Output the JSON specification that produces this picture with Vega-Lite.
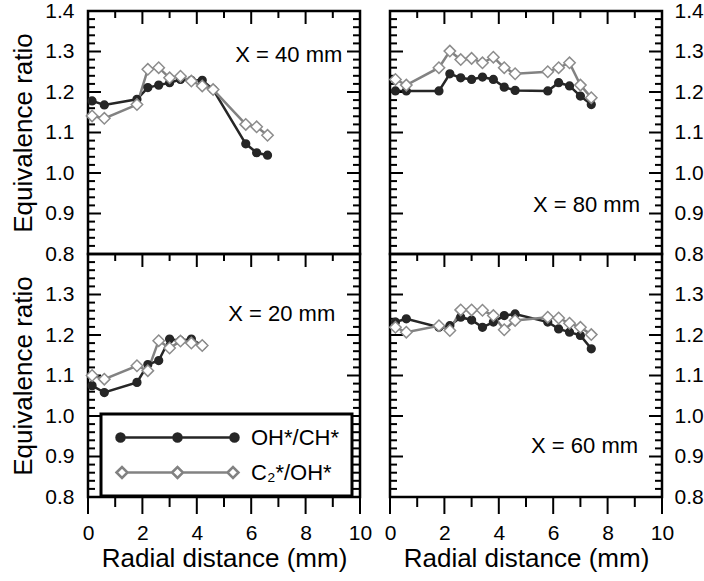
{
  "$schema": "https://vega.github.io/schema/vega-lite/v6.json",
  "padding": {"left": 9, "top": -2, "right": 0, "bottom": 0},
  "background": "white",
  "datasets": {
    "ymaj": [{"v":0.8},{"v":0.9},{"v":1.0},{"v":1.1},{"v":1.2},{"v":1.3},{"v":1.4}],
    "ymin": [{"v":0.82},{"v":0.84},{"v":0.86},{"v":0.88},{"v":0.92},{"v":0.94},{"v":0.96},{"v":0.98},{"v":1.02},{"v":1.04},{"v":1.06},{"v":1.08},{"v":1.12},{"v":1.14},{"v":1.16},{"v":1.18},{"v":1.22},{"v":1.24},{"v":1.26},{"v":1.28},{"v":1.32},{"v":1.34},{"v":1.36},{"v":1.38}],
    "xmaj": [{"v":0},{"v":2},{"v":4},{"v":6},{"v":8},{"v":10}],
    "xmin": [{"v":1},{"v":3},{"v":5},{"v":7},{"v":9}],
    "d": [
      {"p":"40","s":"OH*/CH*","r":0.15,"phi":1.178},{"p":"40","s":"OH*/CH*","r":0.6,"phi":1.168},{"p":"40","s":"OH*/CH*","r":1.8,"phi":1.182},{"p":"40","s":"OH*/CH*","r":2.2,"phi":1.211},{"p":"40","s":"OH*/CH*","r":2.6,"phi":1.217},{"p":"40","s":"OH*/CH*","r":3.0,"phi":1.223},{"p":"40","s":"OH*/CH*","r":3.4,"phi":1.231},{"p":"40","s":"OH*/CH*","r":3.8,"phi":1.229},{"p":"40","s":"OH*/CH*","r":4.2,"phi":1.229},{"p":"40","s":"OH*/CH*","r":4.6,"phi":1.206},{"p":"40","s":"OH*/CH*","r":5.8,"phi":1.072},{"p":"40","s":"OH*/CH*","r":6.2,"phi":1.05},{"p":"40","s":"OH*/CH*","r":6.6,"phi":1.044},
      {"p":"80","s":"OH*/CH*","r":0.2,"phi":1.2025},{"p":"80","s":"OH*/CH*","r":0.6,"phi":1.2025},{"p":"80","s":"OH*/CH*","r":1.8,"phi":1.2025},{"p":"80","s":"OH*/CH*","r":2.2,"phi":1.245},{"p":"80","s":"OH*/CH*","r":2.6,"phi":1.235},{"p":"80","s":"OH*/CH*","r":3.0,"phi":1.231},{"p":"80","s":"OH*/CH*","r":3.4,"phi":1.237},{"p":"80","s":"OH*/CH*","r":3.8,"phi":1.231},{"p":"80","s":"OH*/CH*","r":4.2,"phi":1.212},{"p":"80","s":"OH*/CH*","r":4.6,"phi":1.204},{"p":"80","s":"OH*/CH*","r":5.8,"phi":1.2025},{"p":"80","s":"OH*/CH*","r":6.2,"phi":1.223},{"p":"80","s":"OH*/CH*","r":6.6,"phi":1.215},{"p":"80","s":"OH*/CH*","r":7.0,"phi":1.19},{"p":"80","s":"OH*/CH*","r":7.4,"phi":1.169},
      {"p":"20","s":"OH*/CH*","r":0.15,"phi":1.075},{"p":"20","s":"OH*/CH*","r":0.6,"phi":1.058},{"p":"20","s":"OH*/CH*","r":1.8,"phi":1.083},{"p":"20","s":"OH*/CH*","r":2.2,"phi":1.127},{"p":"20","s":"OH*/CH*","r":2.6,"phi":1.137},{"p":"20","s":"OH*/CH*","r":3.0,"phi":1.19},{"p":"20","s":"OH*/CH*","r":3.4,"phi":1.186},{"p":"20","s":"OH*/CH*","r":3.8,"phi":1.19},{"p":"20","s":"OH*/CH*","r":4.2,"phi":1.174},
      {"p":"60","s":"OH*/CH*","r":0.2,"phi":1.232},{"p":"60","s":"OH*/CH*","r":0.6,"phi":1.24},{"p":"60","s":"OH*/CH*","r":1.8,"phi":1.219},{"p":"60","s":"OH*/CH*","r":2.2,"phi":1.223},{"p":"60","s":"OH*/CH*","r":2.6,"phi":1.244},{"p":"60","s":"OH*/CH*","r":3.0,"phi":1.237},{"p":"60","s":"OH*/CH*","r":3.4,"phi":1.219},{"p":"60","s":"OH*/CH*","r":3.8,"phi":1.232},{"p":"60","s":"OH*/CH*","r":4.2,"phi":1.248},{"p":"60","s":"OH*/CH*","r":4.6,"phi":1.252},{"p":"60","s":"OH*/CH*","r":5.8,"phi":1.232},{"p":"60","s":"OH*/CH*","r":6.2,"phi":1.215},{"p":"60","s":"OH*/CH*","r":6.6,"phi":1.207},{"p":"60","s":"OH*/CH*","r":7.0,"phi":1.199},{"p":"60","s":"OH*/CH*","r":7.4,"phi":1.166},
      {"p":"40","s":"C₂*/OH*","r":0.15,"phi":1.141},{"p":"40","s":"C₂*/OH*","r":0.6,"phi":1.135},{"p":"40","s":"C₂*/OH*","r":1.8,"phi":1.169},{"p":"40","s":"C₂*/OH*","r":2.2,"phi":1.256},{"p":"40","s":"C₂*/OH*","r":2.6,"phi":1.26},{"p":"40","s":"C₂*/OH*","r":3.0,"phi":1.235},{"p":"40","s":"C₂*/OH*","r":3.4,"phi":1.239},{"p":"40","s":"C₂*/OH*","r":3.8,"phi":1.227},{"p":"40","s":"C₂*/OH*","r":4.2,"phi":1.215},{"p":"40","s":"C₂*/OH*","r":4.6,"phi":1.206},{"p":"40","s":"C₂*/OH*","r":5.8,"phi":1.12},{"p":"40","s":"C₂*/OH*","r":6.2,"phi":1.114},{"p":"40","s":"C₂*/OH*","r":6.6,"phi":1.093},
      {"p":"80","s":"C₂*/OH*","r":0.2,"phi":1.231},{"p":"80","s":"C₂*/OH*","r":0.6,"phi":1.217},{"p":"80","s":"C₂*/OH*","r":1.8,"phi":1.26},{"p":"80","s":"C₂*/OH*","r":2.2,"phi":1.301},{"p":"80","s":"C₂*/OH*","r":2.6,"phi":1.28},{"p":"80","s":"C₂*/OH*","r":3.0,"phi":1.283},{"p":"80","s":"C₂*/OH*","r":3.4,"phi":1.272},{"p":"80","s":"C₂*/OH*","r":3.8,"phi":1.286},{"p":"80","s":"C₂*/OH*","r":4.2,"phi":1.26},{"p":"80","s":"C₂*/OH*","r":4.6,"phi":1.245},{"p":"80","s":"C₂*/OH*","r":5.8,"phi":1.25},{"p":"80","s":"C₂*/OH*","r":6.2,"phi":1.26},{"p":"80","s":"C₂*/OH*","r":6.6,"phi":1.272},{"p":"80","s":"C₂*/OH*","r":7.0,"phi":1.217},{"p":"80","s":"C₂*/OH*","r":7.4,"phi":1.186},
      {"p":"20","s":"C₂*/OH*","r":0.15,"phi":1.1},{"p":"20","s":"C₂*/OH*","r":0.6,"phi":1.091},{"p":"20","s":"C₂*/OH*","r":1.8,"phi":1.124},{"p":"20","s":"C₂*/OH*","r":2.2,"phi":1.112},{"p":"20","s":"C₂*/OH*","r":2.6,"phi":1.186},{"p":"20","s":"C₂*/OH*","r":3.0,"phi":1.168},{"p":"20","s":"C₂*/OH*","r":3.4,"phi":1.185},{"p":"20","s":"C₂*/OH*","r":3.8,"phi":1.18},{"p":"20","s":"C₂*/OH*","r":4.2,"phi":1.174},
      {"p":"60","s":"C₂*/OH*","r":0.2,"phi":1.219},{"p":"60","s":"C₂*/OH*","r":0.6,"phi":1.207},{"p":"60","s":"C₂*/OH*","r":1.8,"phi":1.223},{"p":"60","s":"C₂*/OH*","r":2.2,"phi":1.211},{"p":"60","s":"C₂*/OH*","r":2.6,"phi":1.262},{"p":"60","s":"C₂*/OH*","r":3.0,"phi":1.262},{"p":"60","s":"C₂*/OH*","r":3.4,"phi":1.261},{"p":"60","s":"C₂*/OH*","r":3.8,"phi":1.248},{"p":"60","s":"C₂*/OH*","r":4.2,"phi":1.213},{"p":"60","s":"C₂*/OH*","r":4.6,"phi":1.236},{"p":"60","s":"C₂*/OH*","r":5.8,"phi":1.244},{"p":"60","s":"C₂*/OH*","r":6.2,"phi":1.242},{"p":"60","s":"C₂*/OH*","r":6.6,"phi":1.229},{"p":"60","s":"C₂*/OH*","r":7.0,"phi":1.219},{"p":"60","s":"C₂*/OH*","r":7.4,"phi":1.201}
    ]
  },
  "columns": 2,
  "spacing": {"row": 0, "column": 30},
  "bounds": "flush",
  "concat": [
    {
      "width": 272, "height": 243,
      "layer": [
        {"data": {"name": "d"}, "transform": [{"filter": "datum.p === '40'"}],
         "mark": {"type": "line", "strokeWidth": 2.5},
         "encoding": {
           "x": {"field": "r", "type": "quantitative", "scale": {"domain": [0, 10], "nice": false}, "axis": null},
           "y": {"field": "phi", "type": "quantitative", "scale": {"domain": [0.8, 1.4], "nice": false, "zero": false}, "axis": {"orient": "left", "values": [0.8,0.9,1.0,1.1,1.2,1.3,1.4], "format": ".1f", "ticks": false, "domain": false, "labelPadding": 14, "title": "Equivalence ratio", "titlePadding": 8}},
           "color": {"field": "s", "type": "nominal", "scale": {"domain": ["OH*/CH*", "C₂*/OH*"], "range": ["#262626", "#828282"]},
             "legend": {"orient": "none", "legendX": 13, "legendY": 403, "title": null, "direction": "vertical", "symbolSize": 400, "symbolStrokeWidth": 2.5, "symbolOffset": 53, "labelFontSize": 22, "labelOffset": 62, "padding": 12, "rowPadding": 12, "strokeColor": "black", "fillColor": "white", "labelColor": "black",
               "encode": {
                 "legend": {"update": {"strokeWidth": {"value": 3}}},
                 "symbols": {"update": {
                   "shape": {"signal": "datum.value === 'OH*/CH*' ? 'M-5.3,0L-0.4,0M0.4,0L5.3,0M-6.1,0A0.4,0.4,0,1,0,-5.3,0A0.4,0.4,0,1,0,-6.1,0ZM-0.4,0A0.4,0.4,0,1,0,0.4,0A0.4,0.4,0,1,0,-0.4,0ZM5.3,0A0.4,0.4,0,1,0,6.1,0A0.4,0.4,0,1,0,5.3,0Z' : 'M-5.0,0L-0.55,0M0.55,0L5.0,0M-6.1,0L-5.55,-0.55L-5.0,0L-5.55,0.55ZM-0.55,0L0,-0.55L0.55,0L0,0.55ZM5.0,0L5.55,-0.55L6.1,0L5.55,0.55Z'"},
                   "fill": {"signal": "datum.value === 'OH*/CH*' ? '#262626' : 'white'"},
                   "stroke": {"signal": "datum.value === 'OH*/CH*' ? '#262626' : '#8c8c8c'"},
                   "size": {"value": 400},
                   "opacity": {"value": 1}
                 }}
               }}}
         }},
        {"data": {"name": "ymaj"}, "mark": {"type": "tick", "orient": "horizontal", "size": 13, "thickness": 2, "xOffset": 6.5, "color": "black", "opacity": 1}, "encoding": {"x": {"datum": 0, "type": "quantitative", "axis": null}, "y": {"field": "v", "type": "quantitative", "axis": null}}},
        {"data": {"name": "ymin"}, "mark": {"type": "tick", "orient": "horizontal", "size": 7, "thickness": 2, "xOffset": 3.5, "color": "black", "opacity": 1}, "encoding": {"x": {"datum": 0, "type": "quantitative", "axis": null}, "y": {"field": "v", "type": "quantitative", "axis": null}}},
        {"data": {"name": "ymaj"}, "mark": {"type": "tick", "orient": "horizontal", "size": 13, "thickness": 2, "xOffset": -6.5, "color": "black", "opacity": 1}, "encoding": {"x": {"datum": 10, "type": "quantitative", "axis": null}, "y": {"field": "v", "type": "quantitative", "axis": null}}},
        {"data": {"name": "ymin"}, "mark": {"type": "tick", "orient": "horizontal", "size": 7, "thickness": 2, "xOffset": -3.5, "color": "black", "opacity": 1}, "encoding": {"x": {"datum": 10, "type": "quantitative", "axis": null}, "y": {"field": "v", "type": "quantitative", "axis": null}}},
        {"data": {"name": "xmaj"}, "mark": {"type": "tick", "orient": "vertical", "size": 13, "thickness": 2, "yOffset": 6.5, "color": "black", "opacity": 1}, "encoding": {"x": {"field": "v", "type": "quantitative", "axis": null}, "y": {"datum": 1.4, "type": "quantitative", "axis": null}}},
        {"data": {"name": "xmin"}, "mark": {"type": "tick", "orient": "vertical", "size": 7, "thickness": 2, "yOffset": 3.5, "color": "black", "opacity": 1}, "encoding": {"x": {"field": "v", "type": "quantitative", "axis": null}, "y": {"datum": 1.4, "type": "quantitative", "axis": null}}},
        {"data": {"name": "d"}, "transform": [{"filter": "datum.p === '40'"}],
         "mark": {"type": "point", "filled": true, "opacity": 1, "strokeWidth": 1.5},
         "encoding": {
           "x": {"field": "r", "type": "quantitative", "axis": null},
           "y": {"field": "phi", "type": "quantitative", "axis": null},
           "shape": {"condition": {"test": "datum.s === 'OH*/CH*'", "value": "circle"}, "value": "diamond"},
           "fill": {"condition": {"test": "datum.s === 'OH*/CH*'", "value": "#262626"}, "value": "white"},
           "stroke": {"condition": {"test": "datum.s === 'OH*/CH*'", "value": "#262626"}, "value": "#8c8c8c"},
           "size": {"condition": {"test": "datum.s === 'OH*/CH*'", "value": 60}, "value": 130}
         }},
        {"data": {"values": [{"label": "X = 40 mm"}]},
         "mark": {"type": "text", "align": "right", "baseline": "middle", "fontSize": 22, "color": "black"},
         "encoding": {"x": {"datum": 9.35, "type": "quantitative", "axis": null}, "y": {"datum": 1.292, "type": "quantitative", "axis": null}, "text": {"field": "label"}}}
      ],
      "resolve": {"axis": {"x": "independent", "y": "independent"}}
    },
    {
      "width": 272, "height": 243,
      "layer": [
        {"data": {"name": "d"}, "transform": [{"filter": "datum.p === '80'"}],
         "mark": {"type": "line", "strokeWidth": 2.5},
         "encoding": {
           "x": {"field": "r", "type": "quantitative", "scale": {"domain": [0, 10], "nice": false}, "axis": null},
           "y": {"field": "phi", "type": "quantitative", "scale": {"domain": [0.8, 1.4], "nice": false, "zero": false}, "axis": {"orient": "right", "values": [0.8,0.9,1.0,1.1,1.2,1.3,1.4], "format": ".1f", "ticks": false, "domain": false, "labelPadding": 12, "title": null}},
           "color": {"field": "s", "type": "nominal", "scale": {"domain": ["OH*/CH*", "C₂*/OH*"], "range": ["#262626", "#828282"]}, "legend": null}
         }},
        {"data": {"name": "ymaj"}, "mark": {"type": "tick", "orient": "horizontal", "size": 13, "thickness": 2, "xOffset": 6.5, "color": "black", "opacity": 1}, "encoding": {"x": {"datum": 0, "type": "quantitative", "axis": null}, "y": {"field": "v", "type": "quantitative", "axis": null}}},
        {"data": {"name": "ymin"}, "mark": {"type": "tick", "orient": "horizontal", "size": 7, "thickness": 2, "xOffset": 3.5, "color": "black", "opacity": 1}, "encoding": {"x": {"datum": 0, "type": "quantitative", "axis": null}, "y": {"field": "v", "type": "quantitative", "axis": null}}},
        {"data": {"name": "ymaj"}, "mark": {"type": "tick", "orient": "horizontal", "size": 13, "thickness": 2, "xOffset": -6.5, "color": "black", "opacity": 1}, "encoding": {"x": {"datum": 10, "type": "quantitative", "axis": null}, "y": {"field": "v", "type": "quantitative", "axis": null}}},
        {"data": {"name": "ymin"}, "mark": {"type": "tick", "orient": "horizontal", "size": 7, "thickness": 2, "xOffset": -3.5, "color": "black", "opacity": 1}, "encoding": {"x": {"datum": 10, "type": "quantitative", "axis": null}, "y": {"field": "v", "type": "quantitative", "axis": null}}},
        {"data": {"name": "xmaj"}, "mark": {"type": "tick", "orient": "vertical", "size": 13, "thickness": 2, "yOffset": 6.5, "color": "black", "opacity": 1}, "encoding": {"x": {"field": "v", "type": "quantitative", "axis": null}, "y": {"datum": 1.4, "type": "quantitative", "axis": null}}},
        {"data": {"name": "xmin"}, "mark": {"type": "tick", "orient": "vertical", "size": 7, "thickness": 2, "yOffset": 3.5, "color": "black", "opacity": 1}, "encoding": {"x": {"field": "v", "type": "quantitative", "axis": null}, "y": {"datum": 1.4, "type": "quantitative", "axis": null}}},
        {"data": {"name": "d"}, "transform": [{"filter": "datum.p === '80'"}],
         "mark": {"type": "point", "filled": true, "opacity": 1, "strokeWidth": 1.5},
         "encoding": {
           "x": {"field": "r", "type": "quantitative", "axis": null},
           "y": {"field": "phi", "type": "quantitative", "axis": null},
           "shape": {"condition": {"test": "datum.s === 'OH*/CH*'", "value": "circle"}, "value": "diamond"},
           "fill": {"condition": {"test": "datum.s === 'OH*/CH*'", "value": "#262626"}, "value": "white"},
           "stroke": {"condition": {"test": "datum.s === 'OH*/CH*'", "value": "#262626"}, "value": "#8c8c8c"},
           "size": {"condition": {"test": "datum.s === 'OH*/CH*'", "value": 60}, "value": 130}
         }},
        {"data": {"values": [{"label": "X = 80 mm"}]},
         "mark": {"type": "text", "align": "right", "baseline": "middle", "fontSize": 22, "color": "black"},
         "encoding": {"x": {"datum": 9.19, "type": "quantitative", "axis": null}, "y": {"datum": 0.922, "type": "quantitative", "axis": null}, "text": {"field": "label"}}}
      ],
      "resolve": {"axis": {"x": "independent", "y": "independent"}}
    },
    {
      "width": 272, "height": 243,
      "layer": [
        {"data": {"name": "d"}, "transform": [{"filter": "datum.p === '20'"}],
         "mark": {"type": "line", "strokeWidth": 2.5},
         "encoding": {
           "x": {"field": "r", "type": "quantitative", "scale": {"domain": [0, 10], "nice": false}, "axis": {"orient": "bottom", "values": [0,2,4,6,8,10], "ticks": false, "domain": false, "labelPadding": 25, "title": "Radial distance (mm)", "titlePadding": 2}},
           "y": {"field": "phi", "type": "quantitative", "scale": {"domain": [0.8, 1.4], "nice": false, "zero": false}, "axis": {"orient": "left", "values": [0.8,0.9,1.0,1.1,1.2,1.3], "format": ".1f", "ticks": false, "domain": false, "labelPadding": 14, "title": "Equivalence ratio", "titlePadding": 8}},
           "color": {"field": "s", "type": "nominal", "scale": {"domain": ["OH*/CH*", "C₂*/OH*"], "range": ["#262626", "#828282"]}, "legend": null}
         }},
        {"data": {"name": "ymaj"}, "mark": {"type": "tick", "orient": "horizontal", "size": 13, "thickness": 2, "xOffset": 6.5, "color": "black", "opacity": 1}, "encoding": {"x": {"datum": 0, "type": "quantitative", "axis": null}, "y": {"field": "v", "type": "quantitative", "axis": null}}},
        {"data": {"name": "ymin"}, "mark": {"type": "tick", "orient": "horizontal", "size": 7, "thickness": 2, "xOffset": 3.5, "color": "black", "opacity": 1}, "encoding": {"x": {"datum": 0, "type": "quantitative", "axis": null}, "y": {"field": "v", "type": "quantitative", "axis": null}}},
        {"data": {"name": "ymaj"}, "mark": {"type": "tick", "orient": "horizontal", "size": 13, "thickness": 2, "xOffset": -6.5, "color": "black", "opacity": 1}, "encoding": {"x": {"datum": 10, "type": "quantitative", "axis": null}, "y": {"field": "v", "type": "quantitative", "axis": null}}},
        {"data": {"name": "ymin"}, "mark": {"type": "tick", "orient": "horizontal", "size": 7, "thickness": 2, "xOffset": -3.5, "color": "black", "opacity": 1}, "encoding": {"x": {"datum": 10, "type": "quantitative", "axis": null}, "y": {"field": "v", "type": "quantitative", "axis": null}}},
        {"data": {"name": "xmaj"}, "mark": {"type": "tick", "orient": "vertical", "size": 13, "thickness": 2, "yOffset": 6.5, "color": "black", "opacity": 1}, "encoding": {"x": {"field": "v", "type": "quantitative", "axis": null}, "y": {"datum": 1.4, "type": "quantitative", "axis": null}}},
        {"data": {"name": "xmin"}, "mark": {"type": "tick", "orient": "vertical", "size": 7, "thickness": 2, "yOffset": 3.5, "color": "black", "opacity": 1}, "encoding": {"x": {"field": "v", "type": "quantitative", "axis": null}, "y": {"datum": 1.4, "type": "quantitative", "axis": null}}},
        {"data": {"name": "xmaj"}, "mark": {"type": "tick", "orient": "vertical", "size": 17, "thickness": 2, "yOffset": 8.5, "color": "black", "opacity": 1}, "encoding": {"x": {"field": "v", "type": "quantitative", "axis": null}, "y": {"datum": 0.8, "type": "quantitative", "axis": null}}},
        {"data": {"name": "xmin"}, "mark": {"type": "tick", "orient": "vertical", "size": 10, "thickness": 2, "yOffset": 5, "color": "black", "opacity": 1}, "encoding": {"x": {"field": "v", "type": "quantitative", "axis": null}, "y": {"datum": 0.8, "type": "quantitative", "axis": null}}},
        {"data": {"name": "d"}, "transform": [{"filter": "datum.p === '20'"}],
         "mark": {"type": "point", "filled": true, "opacity": 1, "strokeWidth": 1.5},
         "encoding": {
           "x": {"field": "r", "type": "quantitative", "axis": null},
           "y": {"field": "phi", "type": "quantitative", "axis": null},
           "shape": {"condition": {"test": "datum.s === 'OH*/CH*'", "value": "circle"}, "value": "diamond"},
           "fill": {"condition": {"test": "datum.s === 'OH*/CH*'", "value": "#262626"}, "value": "white"},
           "stroke": {"condition": {"test": "datum.s === 'OH*/CH*'", "value": "#262626"}, "value": "#8c8c8c"},
           "size": {"condition": {"test": "datum.s === 'OH*/CH*'", "value": 60}, "value": 130}
         }},
        {"data": {"values": [{"label": "X = 20 mm"}]},
         "mark": {"type": "text", "align": "right", "baseline": "middle", "fontSize": 22, "color": "black"},
         "encoding": {"x": {"datum": 9.09, "type": "quantitative", "axis": null}, "y": {"datum": 1.251, "type": "quantitative", "axis": null}, "text": {"field": "label"}}}
      ],
      "resolve": {"axis": {"x": "independent", "y": "independent"}}
    },
    {
      "width": 272, "height": 243,
      "layer": [
        {"data": {"name": "d"}, "transform": [{"filter": "datum.p === '60'"}],
         "mark": {"type": "line", "strokeWidth": 2.5},
         "encoding": {
           "x": {"field": "r", "type": "quantitative", "scale": {"domain": [0, 10], "nice": false}, "axis": {"orient": "bottom", "values": [0,2,4,6,8,10], "ticks": false, "domain": false, "labelPadding": 25, "title": "Radial distance (mm)", "titlePadding": 2}},
           "y": {"field": "phi", "type": "quantitative", "scale": {"domain": [0.8, 1.4], "nice": false, "zero": false}, "axis": {"orient": "right", "values": [0.8,0.9,1.0,1.1,1.2,1.3], "format": ".1f", "ticks": false, "domain": false, "labelPadding": 12, "title": null}},
           "color": {"field": "s", "type": "nominal", "scale": {"domain": ["OH*/CH*", "C₂*/OH*"], "range": ["#262626", "#828282"]}, "legend": null}
         }},
        {"data": {"name": "ymaj"}, "mark": {"type": "tick", "orient": "horizontal", "size": 13, "thickness": 2, "xOffset": 6.5, "color": "black", "opacity": 1}, "encoding": {"x": {"datum": 0, "type": "quantitative", "axis": null}, "y": {"field": "v", "type": "quantitative", "axis": null}}},
        {"data": {"name": "ymin"}, "mark": {"type": "tick", "orient": "horizontal", "size": 7, "thickness": 2, "xOffset": 3.5, "color": "black", "opacity": 1}, "encoding": {"x": {"datum": 0, "type": "quantitative", "axis": null}, "y": {"field": "v", "type": "quantitative", "axis": null}}},
        {"data": {"name": "ymaj"}, "mark": {"type": "tick", "orient": "horizontal", "size": 13, "thickness": 2, "xOffset": -6.5, "color": "black", "opacity": 1}, "encoding": {"x": {"datum": 10, "type": "quantitative", "axis": null}, "y": {"field": "v", "type": "quantitative", "axis": null}}},
        {"data": {"name": "ymin"}, "mark": {"type": "tick", "orient": "horizontal", "size": 7, "thickness": 2, "xOffset": -3.5, "color": "black", "opacity": 1}, "encoding": {"x": {"datum": 10, "type": "quantitative", "axis": null}, "y": {"field": "v", "type": "quantitative", "axis": null}}},
        {"data": {"name": "xmaj"}, "mark": {"type": "tick", "orient": "vertical", "size": 13, "thickness": 2, "yOffset": 6.5, "color": "black", "opacity": 1}, "encoding": {"x": {"field": "v", "type": "quantitative", "axis": null}, "y": {"datum": 1.4, "type": "quantitative", "axis": null}}},
        {"data": {"name": "xmin"}, "mark": {"type": "tick", "orient": "vertical", "size": 7, "thickness": 2, "yOffset": 3.5, "color": "black", "opacity": 1}, "encoding": {"x": {"field": "v", "type": "quantitative", "axis": null}, "y": {"datum": 1.4, "type": "quantitative", "axis": null}}},
        {"data": {"name": "xmaj"}, "mark": {"type": "tick", "orient": "vertical", "size": 17, "thickness": 2, "yOffset": 8.5, "color": "black", "opacity": 1}, "encoding": {"x": {"field": "v", "type": "quantitative", "axis": null}, "y": {"datum": 0.8, "type": "quantitative", "axis": null}}},
        {"data": {"name": "xmin"}, "mark": {"type": "tick", "orient": "vertical", "size": 10, "thickness": 2, "yOffset": 5, "color": "black", "opacity": 1}, "encoding": {"x": {"field": "v", "type": "quantitative", "axis": null}, "y": {"datum": 0.8, "type": "quantitative", "axis": null}}},
        {"data": {"name": "d"}, "transform": [{"filter": "datum.p === '60'"}],
         "mark": {"type": "point", "filled": true, "opacity": 1, "strokeWidth": 1.5},
         "encoding": {
           "x": {"field": "r", "type": "quantitative", "axis": null},
           "y": {"field": "phi", "type": "quantitative", "axis": null},
           "shape": {"condition": {"test": "datum.s === 'OH*/CH*'", "value": "circle"}, "value": "diamond"},
           "fill": {"condition": {"test": "datum.s === 'OH*/CH*'", "value": "#262626"}, "value": "white"},
           "stroke": {"condition": {"test": "datum.s === 'OH*/CH*'", "value": "#262626"}, "value": "#8c8c8c"},
           "size": {"condition": {"test": "datum.s === 'OH*/CH*'", "value": 60}, "value": 130}
         }},
        {"data": {"values": [{"label": "X = 60 mm"}]},
         "mark": {"type": "text", "align": "right", "baseline": "middle", "fontSize": 22, "color": "black"},
         "encoding": {"x": {"datum": 9.12, "type": "quantitative", "axis": null}, "y": {"datum": 0.925, "type": "quantitative", "axis": null}, "text": {"field": "label"}}}
      ],
      "resolve": {"axis": {"x": "independent", "y": "independent"}}
    }
  ],
  "config": {
    "font": "Liberation Sans",
    "view": {"stroke": "black", "strokeWidth": 2.5},
    "axis": {"grid": false, "labelFontSize": 21, "labelColor": "black", "labelFont": "Liberation Sans", "titleFont": "Liberation Sans", "titleFontSize": 26, "titleFontWeight": "normal", "titleColor": "black", "labelFlush": false, "labelOverlap": false},
    "legend": {"labelFont": "Liberation Sans"},
    "text": {"font": "Liberation Sans"}
  }
}
